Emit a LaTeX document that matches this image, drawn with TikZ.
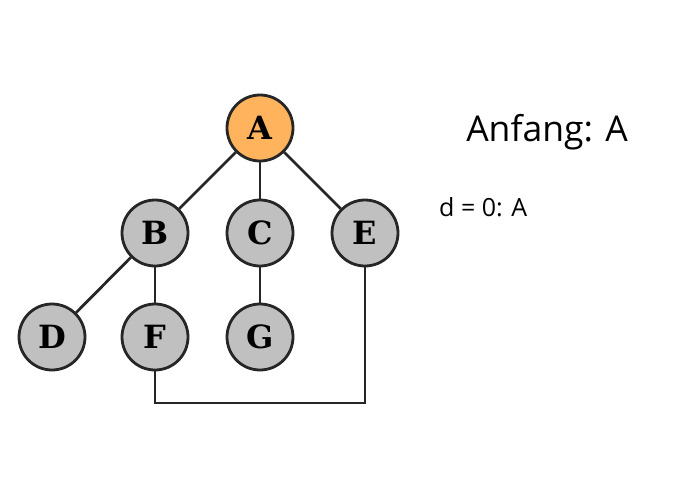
\documentclass[tikz,border=0pt]{standalone}
\usepackage{fontspec}
\setmainfont{Open Sans}
\newfontfamily\nodefont{DejaVu Serif}
\definecolor{startfill}{HTML}{FFB35C}
\definecolor{vertexfill}{HTML}{C0C0C0}
\tikzset{
  vertex/.style={circle, draw=black!85, line width=2.8pt, fill=vertexfill,
    minimum size=66pt, inner sep=0pt, font=\nodefont\bfseries\fontsize{32}{32}\selectfont},
  startvertex/.style={vertex, fill=startfill},
  link/.style={draw=black!85, line width=2.8pt}
}
\begin{document}
\begin{tikzpicture}[x=1pt, y=-1pt]
  \useasboundingbox (0,0) rectangle (700,500);
  \node[startvertex] (A) at (260,128) {A};
  \node[vertex] (B) at (155,233) {B};
  \node[vertex] (C) at (260,233) {C};
  \node[vertex] (E) at (365,233) {E};
  \node[vertex] (D) at (52,337) {D};
  \node[vertex] (F) at (155,337) {F};
  \node[vertex] (G) at (260,337) {G};
  \draw[link] (A) -- (B);
  \draw[link] (A) -- (C);
  \draw[link] (A) -- (E);
  \draw[link] (B) -- (D);
  \draw[link] (B) -- (F);
  \draw[link] (C) -- (G);
  \draw[link, line join=miter] (F.south) -- (155,403) -- (365,403) -- (E.south);
  \node[anchor=base, font=\fontsize{35.5}{35.5}\selectfont] (title) at (547,141) {Anfang: A};
  \node[anchor=base west, inner sep=0pt, font=\fontsize{25}{25}\selectfont] (dist) at (439,216) {d = 0: A};
\end{tikzpicture}
\end{document}
